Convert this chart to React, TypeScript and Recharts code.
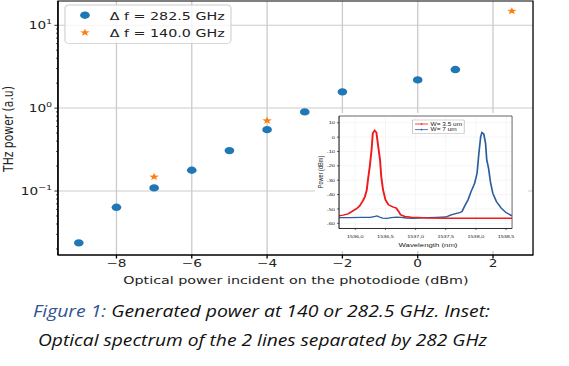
import React from 'react';
import {
  ScatterChart,
  Scatter,
  XAxis,
  YAxis,
  CartesianGrid,
  ReferenceArea,
  Legend,
  LineChart,
  Line,
} from 'recharts';

// ---------- main chart data ----------
const powerDbm282 = [-9, -8, -7, -6, -5, -4, -3, -2, 0, 1];
const thz282 = [0.0237, 0.0636, 0.109, 0.178, 0.307, 0.55, 0.9, 1.57, 2.19, 2.92];
const powerDbm140 = [-7, -4, 2.5];
const thz140 = [0.148, 0.706, 14.8];
const seriesLabels = ['Δ f = 282.5 GHz', 'Δ f = 140.0 GHz'];
const xTicks = [-8, -6, -4, -2, 0, 2];
const yMajor = [0.1, 1, 10];
const yMinor = [
  0.02, 0.03, 0.04, 0.05, 0.06, 0.07, 0.08, 0.09,
  0.2, 0.3, 0.4, 0.5, 0.6, 0.7, 0.8, 0.9,
  2, 3, 4, 5, 6, 7, 8, 9,
];
const xLabel = 'Optical power incident on the photodiode (dBm)';
const yLabel = 'THz power (a.u)';

// ---------- inset data ----------
const redWavelength = [
  1535.73, 1535.8, 1535.88, 1535.96, 1536.02, 1536.07, 1536.1, 1536.13, 1536.16,
  1536.19, 1536.21, 1536.24, 1536.27, 1536.29, 1536.32, 1536.35, 1536.38, 1536.41,
  1536.43, 1536.46, 1536.5, 1536.55, 1536.63, 1536.68, 1536.72, 1536.75, 1536.82,
  1536.93, 1537.04, 1537.2, 1537.5, 1537.8, 1538.1, 1538.4, 1538.6,
];
const redPower = [
  -54.8, -54.3, -53.4, -51.3, -49.8, -48, -46, -44, -41.3,
  -36.7, -29.7, -20.4, -8.8, 2.8, 4.6, 3.2, -6.5, -15.8,
  -27.4, -36.7, -43.6, -47.1, -48.7, -49.4, -51.8, -54, -55.2,
  -55.7, -55.9, -56.3, -56.4, -56.4, -56.4, -56.4, -56.4,
];
const blueWavelength = [
  1535.73, 1535.9, 1536.1, 1536.25, 1536.33, 1536.36, 1536.4, 1536.45, 1536.52,
  1536.6, 1536.68, 1536.76, 1536.85, 1536.95, 1537.05, 1537.2, 1537.35, 1537.5,
  1537.59, 1537.65, 1537.73, 1537.77, 1537.81, 1537.87, 1537.92, 1537.98, 1538.02,
  1538.05, 1538.08, 1538.1, 1538.13, 1538.16, 1538.18, 1538.21, 1538.24, 1538.28,
  1538.34, 1538.42, 1538.5, 1538.6,
];
const bluePower = [
  -56, -56, -55.9, -55.8, -55.2, -54.8, -55.6, -56.4, -56.6,
  -56.1, -55.7, -55.9, -56.3, -56.5, -56.3, -56.1, -55.9, -55.6,
  -54.1, -53.4, -52.5, -51.8, -48.3, -43.6, -37.9, -32, -25,
  -11.1, 0.4, 3.2, 2.3, -4.2, -15.8, -21.6, -30.9, -39,
  -44.8, -49.4, -52.5, -54.8,
];
const insetLabels = ['W= 3.5 um', 'W= 7 um'];
const insetXTicks = [1536, 1536.5, 1537, 1537.5, 1538, 1538.5];
const insetYTicks = [-60, -50, -40, -30, -20, -10, 0, 10];
const insetXLabel = 'Wavelength (nm)';
const insetYLabel = 'Power (dBm)';

const captionLead = 'Figure 1:';
const captionLine1 = ' Generated power at 140 or 282.5 GHz. Inset:';
const captionLine2 = 'Optical spectrum of the 2 lines separated by 282 GHz';

// ---------- derived tables ----------
const data282 = powerDbm282.map((x, i) => ({ x, y: thz282[i] }));
const data140 = powerDbm140.map((x, i) => ({ x, y: thz140[i] }));
const redData = redWavelength.map((w, i) => ({ w, p: redPower[i] }));
const blueData = blueWavelength.map((w, i) => ({ w, p: bluePower[i] }));

const S = 569 / 438;
const BLUE = '#1f77b4';
const ORANGE = '#ff7f0e';
const RED = '#f01a1a';
const IBLUE = '#2c5d9c';
const FONT = 'DejaVu Sans';

const X_DOMAIN: [number, number] = [-9.554, 3.062];
const Y_DOMAIN: [number, number] = [0.0169, 19.6];

function starPath(cx: number, cy: number, R: number, r: number) {
  let d = '';
  for (let i = 0; i < 10; i++) {
    const a = ((-90 + i * 36) * Math.PI) / 180;
    const rad = i % 2 === 0 ? R : r;
    d += (i === 0 ? 'M' : 'L') + (cx + rad * Math.cos(a)).toFixed(2) + ',' + (cy + rad * Math.sin(a)).toFixed(2);
  }
  return d + 'Z';
}

const CircleShape = (props: any) => {
  const { cx, cy } = props;
  if (cx == null || cy == null) return null;
  return <circle cx={cx} cy={cy} r={3.7} fill={BLUE} />;
};
const StarShape = (props: any) => {
  const { cx, cy } = props;
  if (cx == null || cy == null) return null;
  return <path d={starPath(cx, cy, 3.9, 1.6)} fill={ORANGE} />;
};

const fmtX = (v: number) => (v < 0 ? '−' + Math.abs(v) : String(v));

const YTick = (props: any) => {
  const { x, y, payload } = props;
  const v = payload.value;
  const major = yMajor.some((m) => Math.abs(m - v) < 1e-9);
  const exp = Math.round(Math.log10(v));
  return (
    <g>
      <line x1={x} x2={x - (major ? 2.7 : 1.5)} y1={y} y2={y} stroke="#000" strokeWidth={major ? 0.8 : 0.6} />
      {major && (
        <text x={x - 4.4} y={y + 3.8} textAnchor="end" fontSize={10.5} fill="#222" fontFamily={FONT}>
          10
          <tspan dy={-4.8} fontSize={7.4}>
            {exp < 0 ? '−' + Math.abs(exp) : String(exp)}
          </tspan>
        </text>
      )}
    </g>
  );
};

const XLabel = () => (
  <text x={227.8} y={284} textAnchor="middle" fontSize={11} fill="#222" fontFamily={FONT}>
    {xLabel}
  </text>
);
const YLabel = () => (
  <text
    transform="translate(6.4,129) rotate(-90)"
    textAnchor="middle"
    dominantBaseline="central"
    fontSize={10.8}
    fill="#222"
    fontFamily={FONT}
  >
    {yLabel}
  </text>
);

const MainLegend = () => (
  <svg width={438} height={50} style={{ display: 'block', overflow: 'visible' }}>
    <rect x={50} y={5} width={127.8} height={38.3} rx={3} fill="#fff" fillOpacity={0.8} stroke="#cccccc" strokeWidth={0.8} />
    <circle cx={65.4} cy={15.2} r={3.7} fill={BLUE} />
    <path d={starPath(65.4, 32.6, 3.9, 1.6)} fill={ORANGE} />
    <text x={84.4} y={20.3} fontSize={11} fill="#222" fontFamily={FONT}>
      {seriesLabels[0]}
    </text>
    <text x={84.4} y={37.2} fontSize={11} fill="#222" fontFamily={FONT}>
      {seriesLabels[1]}
    </text>
  </svg>
);

const IFONT = 'Liberation Sans';
const InsetXLabel = () => (
  <text x={87} y={134.2} textAnchor="middle" fontSize={6} fill="#222" fontFamily={IFONT}>
    {insetXLabel}
  </text>
);
const InsetYLabel = () => (
  <text
    transform="translate(3.9,59) rotate(-90)"
    textAnchor="middle"
    dominantBaseline="central"
    fontSize={5.6}
    fill="#222"
    fontFamily={IFONT}
  >
    {insetYLabel}
  </text>
);
const InsetLegend = () => (
  <svg width={163.8} height={24} style={{ display: 'block', overflow: 'visible' }}>
    <rect x={75.2} y={7} width={39.6} height={13.3} fill="#fff" stroke="#999" strokeWidth={0.4} />
    <line x1={77} x2={87} y1={11} y2={11} stroke={RED} strokeWidth={0.7} />
    <circle cx={82} cy={11} r={0.8} fill={RED} />
    <text x={89} y={12.7} fontSize={5} fill="#222" fontFamily={IFONT}>
      {insetLabels[0]}
    </text>
    <line x1={77} x2={87} y1={16.6} y2={16.6} stroke={IBLUE} strokeWidth={0.7} />
    <circle cx={82} cy={16.6} r={0.8} fill={IBLUE} />
    <text x={89} y={18.3} fontSize={5} fill="#222" fontFamily={IFONT}>
      {insetLabels[1]}
    </text>
  </svg>
);

export default function App() {
  return (
    <div style={{ position: 'absolute', left: 0, top: 0, width: 569, height: 366, background: '#fff', overflow: 'hidden' }}>
      <div style={{ position: 'absolute', left: 0, top: 0, width: 438, height: 299, transform: `scaleX(${S})`, transformOrigin: '0 0' }}>
        <ScatterChart width={438} height={299} margin={{ top: 1, right: 27.7, bottom: 0, left: 0 }} style={{ fontFamily: FONT }}>
          <CartesianGrid stroke="#cbcbcb" strokeWidth={1} fill="none" horizontalValues={yMajor} verticalValues={xTicks} />
          <XAxis
            type="number"
            dataKey="x"
            domain={X_DOMAIN}
            allowDataOverflow
            ticks={xTicks}
            interval={0}
            tickFormatter={fmtX}
            height={44}
            tickSize={3.5}
            tickMargin={1}
            stroke="#000"
            tick={{ fontSize: 10.5, fill: '#222', fontFamily: FONT }}
            label={<XLabel />}
          />
          <YAxis
            type="number"
            dataKey="y"
            scale="log"
            domain={Y_DOMAIN}
            allowDataOverflow
            ticks={[...yMinor, ...yMajor].sort((a, b) => a - b)}
            interval={0}
            tick={<YTick />}
            tickLine={false}
            tickSize={0}
            tickMargin={0}
            width={44.6}
            stroke="#000"
            label={<YLabel />}
          />
          <ReferenceArea x1={X_DOMAIN[0]} x2={X_DOMAIN[1]} y1={Y_DOMAIN[0]} y2={Y_DOMAIN[1]} fill="none" stroke="#000" strokeWidth={1} ifOverflow="visible" />
          <Scatter name={seriesLabels[0]} data={data282} fill={BLUE} shape={CircleShape} isAnimationActive={false} />
          <Scatter name={seriesLabels[1]} data={data140} fill={ORANGE} shape={StarShape} isAnimationActive={false} />
          <Legend
            layout="horizontal"
            verticalAlign="middle"
            align="center"
            content={MainLegend}
            wrapperStyle={{ position: 'absolute', left: 0, top: 0, width: 438, height: 50, pointerEvents: 'none' }}
          />
        </ScatterChart>
      </div>

      <div style={{ position: 'absolute', left: 315, top: 113, width: 163.8, height: 138, background: '#fff', transform: `scaleX(${S})`, transformOrigin: '0 0' }}>
        <LineChart width={163.8} height={138} margin={{ top: 3, right: 12.1, bottom: 0, left: 0 }}>
          <CartesianGrid stroke="#ececec" strokeWidth={0.4} fill="none" />
          <XAxis
            type="number"
            dataKey="w"
            domain={[1535.73, 1538.6]}
            allowDataOverflow
            ticks={insetXTicks}
            interval={0}
            tickFormatter={(v: number) => v.toFixed(1).replace('.', ',')}
            height={22.5}
            tickSize={1.6}
            tickMargin={4.6}
            stroke="#000"
            strokeWidth={0.5}
            tick={{ fontSize: 4.2, fill: '#222', fontFamily: IFONT }}
            label={<InsetXLabel />}
          />
          <YAxis
            type="number"
            dataKey="p"
            domain={[-63.6, 14.7]}
            allowDataOverflow
            ticks={insetYTicks}
            interval={0}
            width={18.5}
            tickSize={1.6}
            tickMargin={1.5}
            stroke="#000"
            strokeWidth={0.5}
            tick={{ fontSize: 4.4, fill: '#222', fontFamily: IFONT }}
            label={<InsetYLabel />}
          />
          <ReferenceArea x1={1535.73} x2={1538.6} y1={-63.6} y2={14.7} fill="none" stroke="#000" strokeWidth={0.5} ifOverflow="visible" />
          <Line data={blueData} dataKey="p" stroke={IBLUE} strokeWidth={1.3} dot={false} isAnimationActive={false} />
          <Line data={redData} dataKey="p" stroke={RED} strokeWidth={1.5} dot={false} isAnimationActive={false} />
          <Legend
            layout="horizontal"
            verticalAlign="middle"
            align="center"
            content={InsetLegend}
            wrapperStyle={{ position: 'absolute', left: 0, top: 0, width: 163.8, height: 24, pointerEvents: 'none' }}
          />
        </LineChart>
      </div>

      <svg width={569} height={76} style={{ position: 'absolute', left: 0, top: 290 }}>
        <text x={33} y={27} fontSize={15.5} fontStyle="italic" fontFamily="'Open Sans'" textLength={457} lengthAdjust="spacingAndGlyphs">
          <tspan fill="#2F5496">{captionLead}</tspan>
          <tspan fill="#111">{captionLine1}</tspan>
        </text>
        <text x={38} y={56} fontSize={15.5} fontStyle="italic" fontFamily="'Open Sans'" fill="#111" textLength={449} lengthAdjust="spacingAndGlyphs">
          {captionLine2}
        </text>
      </svg>
    </div>
  );
}
